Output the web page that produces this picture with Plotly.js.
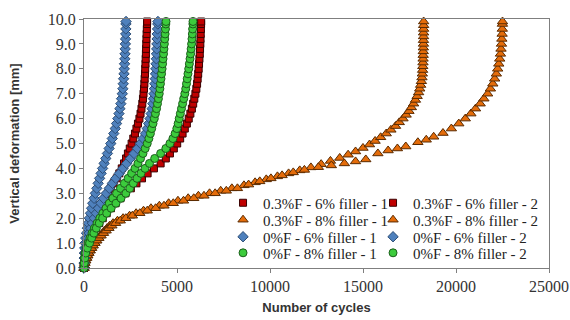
<!DOCTYPE html>
<html><head><meta charset="utf-8">
<script src="https://cdn.plot.ly/plotly-3.0.1.min.js"></script>
<style>html,body{margin:0;padding:0;background:#fff;} #chart{width:570px;height:320px;}</style>
</head><body><div id="chart"></div>
<script>
// Shared deformation grid [mm] for the red, blue and green series
const deformationGrid = [0,0.2,0.4,0.6,0.8,1.0,1.2,1.4,1.6,1.8,2.0,2.2,2.4,2.6,2.8,3.0,3.2,3.4,3.6,3.8,4.0,4.2,4.4,4.6,4.8,5.0,5.2,5.4,5.6,5.8,6.0,6.2,6.4,6.6,6.8,7.0,7.2,7.4,7.6,7.8,8.0,8.2,8.4,8.6,8.8,9.0,9.2,9.4,9.6,9.8,9.9];

// Number of cycles for each series
const f03_6_1 = [0,15,40,80,130,190,260,340,440,560,680,800,920,1040,1160,1300,1440,1590,1760,1900,2030,2150,2260,2360,2460,2560,2650,2740,2820,2900,2980,3040,3090,3135,3170,3200,3225,3245,3262,3278,3292,3305,3317,3328,3338,3348,3358,3368,3378,3388,3395];
const f03_6_2 = [0,20,50,100,170,260,370,500,650,820,1010,1220,1450,1700,1960,2230,2520,2820,3120,3420,3760,4120,4400,4620,4830,5010,5170,5300,5420,5530,5630,5720,5800,5870,5930,5990,6040,6080,6110,6140,6165,6185,6205,6225,6240,6255,6265,6275,6285,6295,6300];
const f0_6_1 = [0,5,12,22,38,60,95,135,180,230,290,350,410,470,540,610,690,760,840,920,1000,1080,1170,1260,1350,1440,1520,1600,1680,1750,1820,1880,1930,1980,2020,2060,2090,2110,2130,2150,2165,2180,2195,2205,2215,2225,2235,2243,2250,2256,2260];
const f0_6_2 = [0,10,30,60,100,150,210,280,360,450,550,660,780,910,1050,1200,1360,1530,1710,1900,2100,2300,2500,2690,2870,3040,3180,3300,3400,3480,3550,3610,3660,3700,3735,3765,3790,3810,3830,3845,3860,3875,3890,3900,3910,3920,3930,3940,3955,3968,3975];
const f0_8_1 = [0,10,25,60,130,220,320,430,560,700,850,1010,1180,1360,1550,1750,1960,2170,2370,2560,2740,2900,3040,3170,3290,3400,3490,3570,3640,3710,3780,3840,3900,3950,4000,4045,4080,4110,4140,4170,4200,4225,4250,4275,4300,4320,4340,4360,4380,4400,4410];
const f0_8_2 = [0,15,40,90,180,300,410,530,660,820,1000,1220,1460,1720,1990,2250,2460,2650,2850,3060,3280,3520,3800,4120,4400,4620,4780,4900,4990,5060,5120,5180,5240,5300,5360,5420,5470,5510,5550,5590,5630,5665,5700,5730,5760,5785,5805,5825,5840,5855,5860];

// Orange series have their own deformation readings
const f03_8_1_def = [0,0.1,0.2,0.3,0.4,0.5,0.6,0.7,0.8,0.9,1.0,1.1,1.2,1.3,1.4,1.5,1.6,1.7,1.8,1.9,2.0,2.1,2.2,2.3,2.4,2.5,2.6,2.7,2.8,2.9,3.0,3.1,3.2,3.32,3.44,3.56,3.68,3.8,3.92,4.04,4.17,4.3,4.42,4.55,4.68,4.82,4.96,5.1,5.25,5.4,5.55,5.7,5.85,6.0,6.15,6.3,6.45,6.6,6.75,6.9,7.05,7.2,7.35,7.5,7.65,7.8,7.95,8.1,8.25,8.4,8.55,8.7,8.85,9.0,9.15,9.3,9.45,9.6,9.75,9.9];
const f03_8_1 = [0,20,50,90,140,200,260,330,400,480,570,660,760,870,990,1110,1240,1380,1560,1800,2100,2450,2800,3200,3600,4050,4550,5050,5600,6150,6750,7350,7950,8600,9200,9800,10400,11000,11600,12200,12750,13250,13750,14200,14600,15000,15350,15650,15950,16250,16500,16750,16950,17150,17320,17470,17600,17720,17820,17910,17990,18050,18100,18140,18170,18190,18205,18215,18225,18230,18235,18240,18245,18250,18250,18255,18255,18260,18260,18260];
const f03_8_2_def = [0,0.1,0.2,0.3,0.4,0.5,0.6,0.7,0.8,0.9,1.0,1.1,1.2,1.3,1.4,1.5,1.6,1.7,1.8,1.9,2.0,2.1,2.2,2.3,2.4,2.5,2.6,2.7,2.8,2.9,3.0,3.1,3.2,3.35,3.48,3.6,3.72,3.84,3.94,4.05,4.12,4.2,4.28,4.36,4.6,4.72,4.8,4.88,5.05,5.15,5.27,5.42,5.6,5.8,6.0,6.2,6.4,6.6,6.8,7.0,7.2,7.4,7.6,7.8,8.0,8.2,8.4,8.6,8.8,9.0,9.2,9.4,9.6,9.8,9.9];
const f03_8_2 = [0,15,40,80,130,190,250,320,400,490,590,690,800,920,1050,1190,1340,1500,1700,1950,2250,2600,3000,3400,3850,4300,4800,5350,5900,6450,7050,7650,8250,8850,9450,10050,10650,11250,11850,12600,13300,14000,14600,15150,15800,16350,16850,17300,17950,18400,18800,19300,19750,20150,20500,20800,21050,21300,21500,21700,21850,21980,22080,22170,22240,22300,22350,22390,22420,22445,22465,22480,22490,22495,22500];

const seriesNames = ['0.3%F - 6% filler - 1','0.3%F - 6% filler - 2','0.3%F - 8% filler - 1','0.3%F - 8% filler - 2','0%F - 6% filler - 1','0%F - 6% filler - 2','0%F - 8% filler - 1','0%F - 8% filler - 2'];
const xTickVals = [0,5000,10000,15000,20000,25000];
const yTickVals = [0,1,2,3,4,5,6,7,8,9,10];

const red = {symbol:'square', size:7, color:'#C00000', line:{color:'#3a0000', width:1}};
const orange = {symbol:'triangle-up', size:9, color:'#E46C0A', line:{color:'#5a2a00', width:1}};
const blue = {symbol:'diamond', size:8, color:'#4F81BD', line:{color:'#2c4d75', width:1}};
const green = {symbol:'circle', size:8, color:'#3CCB3C', line:{color:'#1c5e1c', width:1}};

function tr(x, y, name, marker, legend, col) {
  return {type:'scatter', mode:'markers', x:x, y:y, name:name, marker:marker, legend:legend,
          legendwidth: col === 1 ? 105 : 130, cliponaxis:false, hoverinfo:'skip'};
}

const data = [
  tr(f03_6_1, deformationGrid, seriesNames[0], red, 'legend', 1),
  tr(f03_6_2, deformationGrid, seriesNames[1], red, 'legend', 2),
  tr(f03_8_1, f03_8_1_def, seriesNames[2], orange, 'legend2', 1),
  tr(f03_8_2, f03_8_2_def, seriesNames[3], orange, 'legend2', 2),
  tr(f0_6_1, deformationGrid, seriesNames[4], blue, 'legend3', 1),
  tr(f0_6_2, deformationGrid, seriesNames[5], blue, 'legend3', 2),
  tr(f0_8_1, deformationGrid, seriesNames[6], green, 'legend4', 1),
  tr(f0_8_2, deformationGrid, seriesNames[7], green, 'legend4', 2)
];

const legFont = {family:'Liberation Serif', size:15, color:'#222'};
function leg(y) {
  return {orientation:'h', x:0.299, xanchor:'left', y:y, yanchor:'middle', entrywidthmode:'pixels',
          font:legFont, bgcolor:'rgba(0,0,0,0)', borderwidth:0, traceorder:'normal', itemclick:false};
}
const tickFont = {family:'Liberation Serif', size:16, color:'#333'};
const titleFont = {family:'Liberation Sans', size:13, color:'#333', weight:'bold'};

const layout = {
  width:570, height:320,
  font:{family:'Liberation Serif'},
  margin:{l:84, r:21, t:19, b:52, autoexpand:false},
  paper_bgcolor:'#fff', plot_bgcolor:'#fff',
  showlegend:true,
  xaxis:{range:[0,25000], tickvals:xTickVals, ticktext:xTickVals.map(String), ticks:'outside', ticklen:4, tickcolor:'#7f7f7f',
         showline:true, linecolor:'#7f7f7f', linewidth:1, mirror:true, showgrid:false, zeroline:false, tickfont:tickFont,
         title:{text:'Number of cycles', font:titleFont, standoff:8}},
  yaxis:{range:[0,10], tickvals:yTickVals, ticktext:yTickVals.map(v=>v.toFixed(1)), ticks:'outside', ticklen:4, tickcolor:'#7f7f7f',
         showline:true, linecolor:'#7f7f7f', linewidth:1, mirror:true, showgrid:false, zeroline:false, tickfont:tickFont,
         title:{text:'Vertical deformation [mm]', font:titleFont, standoff:25}},
  legend:leg(0.261), legend2:leg(0.193), legend3:leg(0.1245), legend4:leg(0.060)
};

Plotly.newPlot('chart', data, layout, {displayModeBar:false, staticPlot:true});
</script></body></html>
